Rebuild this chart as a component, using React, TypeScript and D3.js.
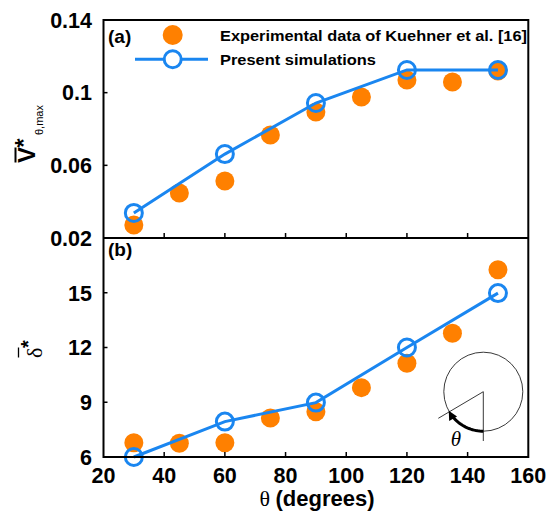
import React, { useEffect, useRef } from "react";
import * as d3 from "d3";

const thetaExp = [30, 45, 60, 75, 90, 105, 120, 135, 150];
const vExp = [0.0272, 0.0448, 0.0514, 0.0767, 0.0894, 0.0976, 0.107, 0.1059, 0.1119];
const deltaExp = [6.78, 6.75, 6.78, 8.14, 8.48, 9.8, 11.14, 12.78, 16.26];
const thetaSim = [30, 60, 90, 120, 150];
const vSim = [0.0338, 0.0662, 0.0943, 0.1125, 0.1125];
const deltaSim = [6.0, 7.94, 8.98, 12.0, 14.98];
const xTicks = [20, 40, 60, 80, 100, 120, 140, 160];
const vTicks = [0.02, 0.06, 0.1, 0.14];
const vTickLabels = ["0.02", "0.06", "0.1", "0.14"];
const dTicks = [6, 9, 12, 15];
const legendLabels = ["Experimental data of Kuehner et al. [16]", "Present simulations"];

const ORANGE = "#ff8000";
const BLUE = "#1a86f0";
const FONT = "'Liberation Sans', Arial, sans-serif";
const SERIF = "'Liberation Serif', 'Times New Roman', serif";

export default function App() {
  const ref = useRef<SVGSVGElement | null>(null);

  useEffect(() => {
    const svg = d3.select(ref.current);
    svg.selectAll("*").remove();

    const L = 103.5, R = 528.3, T = 20, M = 238, B = 457;
    const x = d3.scaleLinear().domain([20, 160]).range([L, R]);
    const yA = d3.scaleLinear().domain([0.02, 0.14]).range([M, T]);
    const yB = d3.scaleLinear().domain([6, 18]).range([B, M]);

    const label = (g: any, tx: number, ty: number, txt: string, anchor: string, size: number) =>
      g.append("text")
        .attr("x", tx).attr("y", ty)
        .attr("text-anchor", anchor)
        .attr("font-family", FONT)
        .attr("font-weight", "bold")
        .attr("font-size", size)
        .attr("fill", "#000")
        .text(txt);

    const lineA = d3.line<number>().x((_, i) => x(thetaSim[i])).y((d) => yA(d));
    const lineB = d3.line<number>().x((_, i) => x(thetaSim[i])).y((d) => yB(d));

    const g = svg.append("g");

    g.selectAll(".ea").data(vExp).enter().append("circle")
      .attr("cx", (_, i) => x(thetaExp[i])).attr("cy", (d) => yA(d)).attr("r", 9.5).attr("fill", ORANGE);
    g.append("path").attr("d", lineA(vSim)).attr("fill", "none").attr("stroke", BLUE).attr("stroke-width", 3);
    g.selectAll(".sa").data(vSim).enter().append("circle")
      .attr("cx", (_, i) => x(thetaSim[i])).attr("cy", (d) => yA(d)).attr("r", 8.5)
      .attr("fill", "none").attr("stroke", BLUE).attr("stroke-width", 3);

    g.selectAll(".eb").data(deltaExp).enter().append("circle")
      .attr("cx", (_, i) => x(thetaExp[i])).attr("cy", (d) => yB(d)).attr("r", 9.5).attr("fill", ORANGE);
    g.append("path").attr("d", lineB(deltaSim)).attr("fill", "none").attr("stroke", BLUE).attr("stroke-width", 3);
    g.selectAll(".sb").data(deltaSim).enter().append("circle")
      .attr("cx", (_, i) => x(thetaSim[i])).attr("cy", (d) => yB(d)).attr("r", 8.5)
      .attr("fill", "none").attr("stroke", BLUE).attr("stroke-width", 3);

    // Frames
    const fr = svg.append("g").attr("stroke", "#000").attr("stroke-width", 2).attr("fill", "none");
    fr.append("rect").attr("x", L).attr("y", T).attr("width", R - L).attr("height", B - T);
    fr.append("line").attr("x1", L).attr("x2", R).attr("y1", M).attr("y2", M);

    // Ticks
    const tk = svg.append("g").attr("stroke", "#000").attr("stroke-width", 1.5);
    xTicks.slice(1, -1).forEach((t) => {
      tk.append("line").attr("x1", x(t)).attr("x2", x(t)).attr("y1", M).attr("y2", M - 5);
      tk.append("line").attr("x1", x(t)).attr("x2", x(t)).attr("y1", B).attr("y2", B - 5);
    });
    vTicks.slice(1, -1).forEach((t) => {
      tk.append("line").attr("x1", L).attr("x2", L + 4).attr("y1", yA(t)).attr("y2", yA(t));
    });
    dTicks.slice(1).forEach((t) => {
      tk.append("line").attr("x1", L).attr("x2", L + 4).attr("y1", yB(t)).attr("y2", yB(t));
    });

    // Tick labels
    vTicks.forEach((t, i) => label(svg, 92, yA(t) + 7.8, vTickLabels[i], "end", 21.5));
    dTicks.forEach((t) => label(svg, 92, yB(t) + 7.8, String(t), "end", 21.5));
    xTicks.forEach((t) => label(svg, x(t), 483, String(t), "middle", 21.5));

    // X title
    const xt = svg.append("text")
      .attr("x", 317).attr("y", 506)
      .attr("text-anchor", "middle").attr("font-size", 22).attr("fill", "#000");
    xt.append("tspan").attr("font-family", SERIF).text("θ ");
    xt.append("tspan").attr("font-family", FONT).attr("font-weight", "bold").text("(degrees)");

    // Panel letters
    label(svg, 108, 43, "(a)", "start", 19);
    label(svg, 108, 256, "(b)", "start", 19);

    // Legend
    svg.append("circle").attr("cx", 172.7).attr("cy", 35).attr("r", 10).attr("fill", ORANGE);
    svg.append("line").attr("x1", 135).attr("x2", 208).attr("y1", 59.3).attr("y2", 59.3)
      .attr("stroke", BLUE).attr("stroke-width", 3);
    svg.append("circle").attr("cx", 172.7).attr("cy", 59.3).attr("r", 8.5)
      .attr("fill", "#fff").attr("stroke", BLUE).attr("stroke-width", 3);
    [40.5, 65].forEach((yy, i) => {
      svg.append("text").attr("x", 220).attr("y", yy)
        .attr("font-family", FONT).attr("font-weight", "bold").attr("font-size", 15)
        .attr("textLength", i === 0 ? 307 : 156).attr("lengthAdjust", "spacingAndGlyphs")
        .attr("fill", "#000").text(legendLabels[i]);
    });

    // Y title (a)
    const ya = svg.append("g").attr("transform", "translate(35,163) rotate(-90)");
    ya.append("text").attr("x", 0).attr("y", 0).attr("font-family", FONT).attr("font-weight", "bold")
      .attr("font-size", 24).attr("fill", "#000").text("V");
    ya.append("line").attr("x1", 0.5).attr("x2", 15.5).attr("y1", -19.5).attr("y2", -19.5)
      .attr("stroke", "#000").attr("stroke-width", 2);
    ya.append("text").attr("x", 15.5).attr("y", -3).attr("font-family", FONT).attr("font-weight", "bold")
      .attr("font-size", 23).attr("fill", "#000").text("*");
    ya.append("text").attr("x", 28).attr("y", 8).attr("font-family", FONT)
      .attr("font-size", 11).attr("fill", "#000").text("θ,max");

    // Y title (b)
    const yb = svg.append("g").attr("transform", "translate(42,358) rotate(-90)");
    yb.append("text").attr("x", 0).attr("y", 0).attr("font-family", SERIF)
      .attr("font-size", 22).attr("fill", "#000").text("δ");
    yb.append("line").attr("x1", 0.5).attr("x2", 10.5).attr("y1", -23.5).attr("y2", -23.5)
      .attr("stroke", "#000").attr("stroke-width", 1.3);
    yb.append("text").attr("x", 10).attr("y", -7).attr("font-family", FONT).attr("font-weight", "bold")
      .attr("font-size", 20).attr("fill", "#000").text("*");

    // Inset
    const cx = 483.3, cy = 391.7, rr = 39.5;
    const ins = svg.append("g");
    ins.append("circle").attr("cx", cx).attr("cy", cy).attr("r", rr)
      .attr("fill", "none").attr("stroke", "#222").attr("stroke-width", 0.9);
    ins.append("line").attr("x1", cx).attr("y1", cy).attr("x2", cx).attr("y2", 441)
      .attr("stroke", "#222").attr("stroke-width", 0.9);
    ins.append("line").attr("x1", cx).attr("y1", cy).attr("x2", 438.3).attr("y2", 418.3)
      .attr("stroke", "#222").attr("stroke-width", 0.9);
    const a0 = Math.PI / 2, a1 = (143 * Math.PI) / 180;
    const pts = d3.range(0, 21).map((k) => {
      const a = a0 + ((a1 - a0) * k) / 20;
      return [cx + rr * Math.cos(a), cy + rr * Math.sin(a)] as [number, number];
    });
    ins.append("path").attr("d", d3.line()(pts)).attr("fill", "none").attr("stroke", "#000").attr("stroke-width", 3);
    const ah = (151 * Math.PI) / 180;
    const tip: [number, number] = [cx + rr * Math.cos(ah), cy + rr * Math.sin(ah)];
    const tan = [-Math.sin(ah), Math.cos(ah)];
    const nrm = [Math.cos(ah), Math.sin(ah)];
    const back = 9, half = 4.5;
    const base = [tip[0] - tan[0] * back, tip[1] - tan[1] * back];
    ins.append("path")
      .attr("d", `M${tip[0]},${tip[1]}L${base[0] + nrm[0] * half},${base[1] + nrm[1] * half}L${base[0] - nrm[0] * half},${base[1] - nrm[1] * half}Z`)
      .attr("fill", "#000");
    ins.append("text").attr("x", 456).attr("y", 446).attr("text-anchor", "middle")
      .attr("font-family", SERIF).attr("font-style", "italic")
      .attr("font-size", 21).attr("fill", "#000").text("θ");
  }, []);

  return (
    <svg ref={ref} width={560} height={514}
      style={{ position: "absolute", left: 0, top: 0, background: "#fff" }} />
  );
}
